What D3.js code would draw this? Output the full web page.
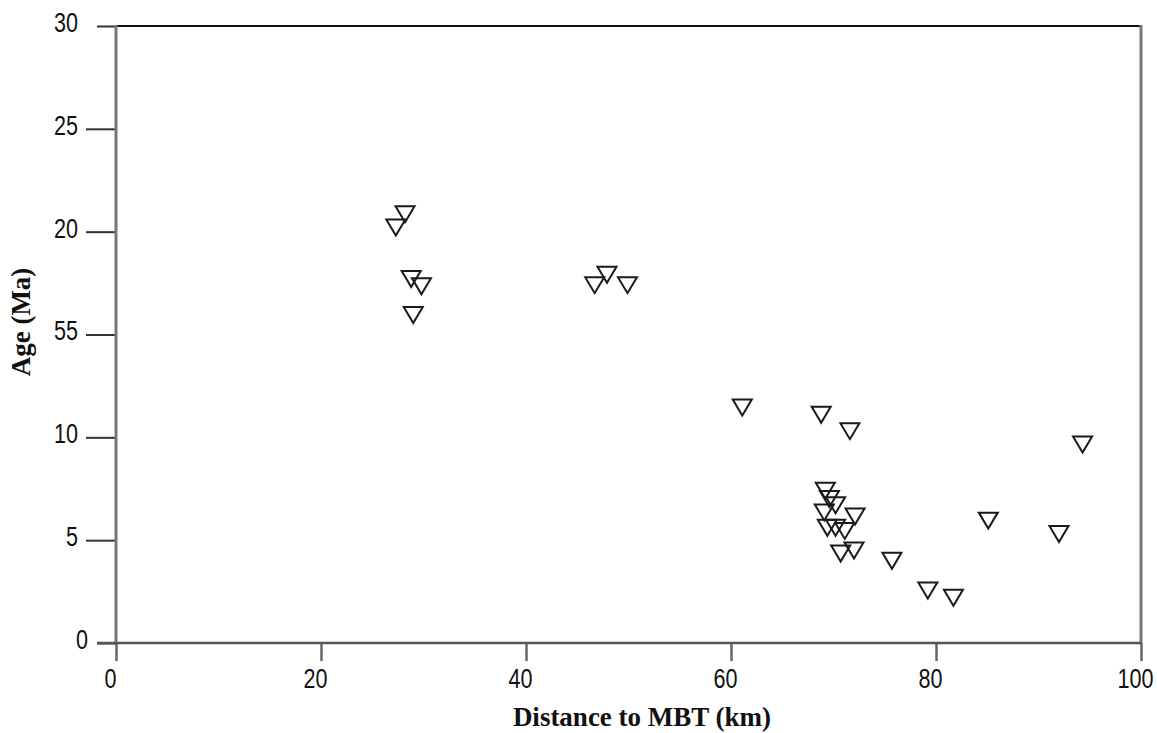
<!DOCTYPE html>
<html>
<head>
<meta charset="utf-8">
<script src="https://cdn.jsdelivr.net/npm/d3@7"></script>
<style>
    html, body { margin: 0; padding: 0; background: #fff; }
    svg { display: block; }
    .tick-label { font-family: "Liberation Sans", Arial, sans-serif; font-size: 27px; fill: #111; }
    .axis-title { font-family: "Liberation Serif", "Times New Roman", serif; font-size: 27px; font-weight: bold; fill: #111; }
</style>
</head>
<body>
<div class="scatter"></div>
<script>
// values
const distance = [28.2, 27.3, 28.8, 29.8, 29.0, 46.7, 47.9, 49.9, 61.1, 68.8, 71.6, 69.2, 69.6, 70.2, 69.1, 72.1, 69.4, 70.2, 71.1, 70.7, 72.0, 75.7, 79.2, 81.7, 85.1, 92.0, 94.3];
const age = [20.85, 20.2, 17.7, 17.35, 15.95, 17.4, 17.9, 17.4, 11.45, 11.1, 10.3, 7.4, 7.0, 6.7, 6.35, 6.15, 5.6, 5.6, 5.45, 4.35, 4.5, 4.0, 2.55, 2.2, 5.95, 5.3, 9.65];
const xTicks = [0, 20, 40, 60, 80, 100];
const yTicks = [0, 5, 10, 15, 20, 25, 30];
const yTickLabels = ["0", "5", "10", "55", "20", "25", "30"];

const width = 1157;
const height = 733;
const digitWidth = 12;

const x = d3.scaleLinear().domain([0, 100]).range([116, 1141]);
const y = d3.scaleLinear().domain([0, 30]).range([643, 26]);

const svg = d3.select('.scatter').append('svg')
    .attr('width', width)
    .attr('height', height);

// y axis
const yAxis = svg.append('g')
    .attr('transform', `translate(${x(0)},0)`)
    .call(d3.axisLeft(y).tickValues(yTicks).tickSize(30).tickFormat((d, i) => yTickLabels[i]));
yAxis.select('.domain').remove();
yAxis.attr('font-size', null).attr('font-family', null);
yAxis.selectAll('.tick line')
    .attr('x2', d => (d === 0 || d === 30) ? -19 : -30)
    .style('stroke', '#333')
    .style('stroke-width', 2);
yAxis.selectAll('.tick text')
    .attr('class', 'tick-label')
    .attr('x', d => d === 0 ? -28 : -38)
    .attr('dy', '0.2em')
    .attr('textLength', function () { return this.textContent.length * digitWidth; })
    .attr('lengthAdjust', 'spacingAndGlyphs');

// x axis
const xAxis = svg.append('g')
    .attr('transform', `translate(0,${y(0)})`)
    .call(d3.axisBottom(x).tickValues(xTicks).tickSize(18).tickFormat(d3.format('d')));
xAxis.select('.domain').remove();
xAxis.attr('font-size', null).attr('font-family', null);
xAxis.selectAll('.tick line')
    .style('stroke', '#666')
    .style('stroke-width', 2.5);
xAxis.selectAll('.tick text')
    .attr('class', 'tick-label')
    .attr('x', -6)
    .attr('y', 26)
    .attr('dy', '0.71em')
    .attr('textLength', function () { return this.textContent.length * digitWidth; })
    .attr('lengthAdjust', 'spacingAndGlyphs');

// frame
const frame = svg.append('g');
frame.append('line')
    .attr('x1', x(0)).attr('x2', x(100)).attr('y1', y(30)).attr('y2', y(30))
    .style('stroke', '#111').style('stroke-width', 2);
frame.append('line')
    .attr('x1', x(0)).attr('x2', x(0)).attr('y1', y(30) - 1).attr('y2', y(0))
    .style('stroke', '#777').style('stroke-width', 3);
frame.append('line')
    .attr('x1', x(100)).attr('x2', x(100)).attr('y1', y(30) - 1).attr('y2', y(0))
    .style('stroke', '#777').style('stroke-width', 3);
frame.append('line')
    .attr('x1', x(0) - 19).attr('x2', x(100)).attr('y1', y(0)).attr('y2', y(0))
    .style('stroke', '#555').style('stroke-width', 2.5);

// markers: hollow down triangles
const tri = 'M-9.5,-8L9.5,-8L0,8Z';
svg.append('g')
    .selectAll('path')
    .data(distance.map((d, i) => ({distance: d, age: age[i]})))
    .enter()
    .append('path')
    .attr('d', tri)
    .attr('transform', d => `translate(${x(d.distance)},${y(d.age)})`)
    .style('fill', 'none')
    .style('stroke', '#1a1a1a')
    .style('stroke-width', 2);

// titles
svg.append('text')
    .attr('class', 'axis-title')
    .attr('x', 642)
    .attr('y', 726)
    .attr('text-anchor', 'middle')
    .text('Distance to MBT (km)');

svg.append('text')
    .attr('class', 'axis-title')
    .attr('transform', 'translate(30,322) rotate(-90)')
    .attr('text-anchor', 'middle')
    .text('Age (Ma)');
</script>
</body>
</html>
